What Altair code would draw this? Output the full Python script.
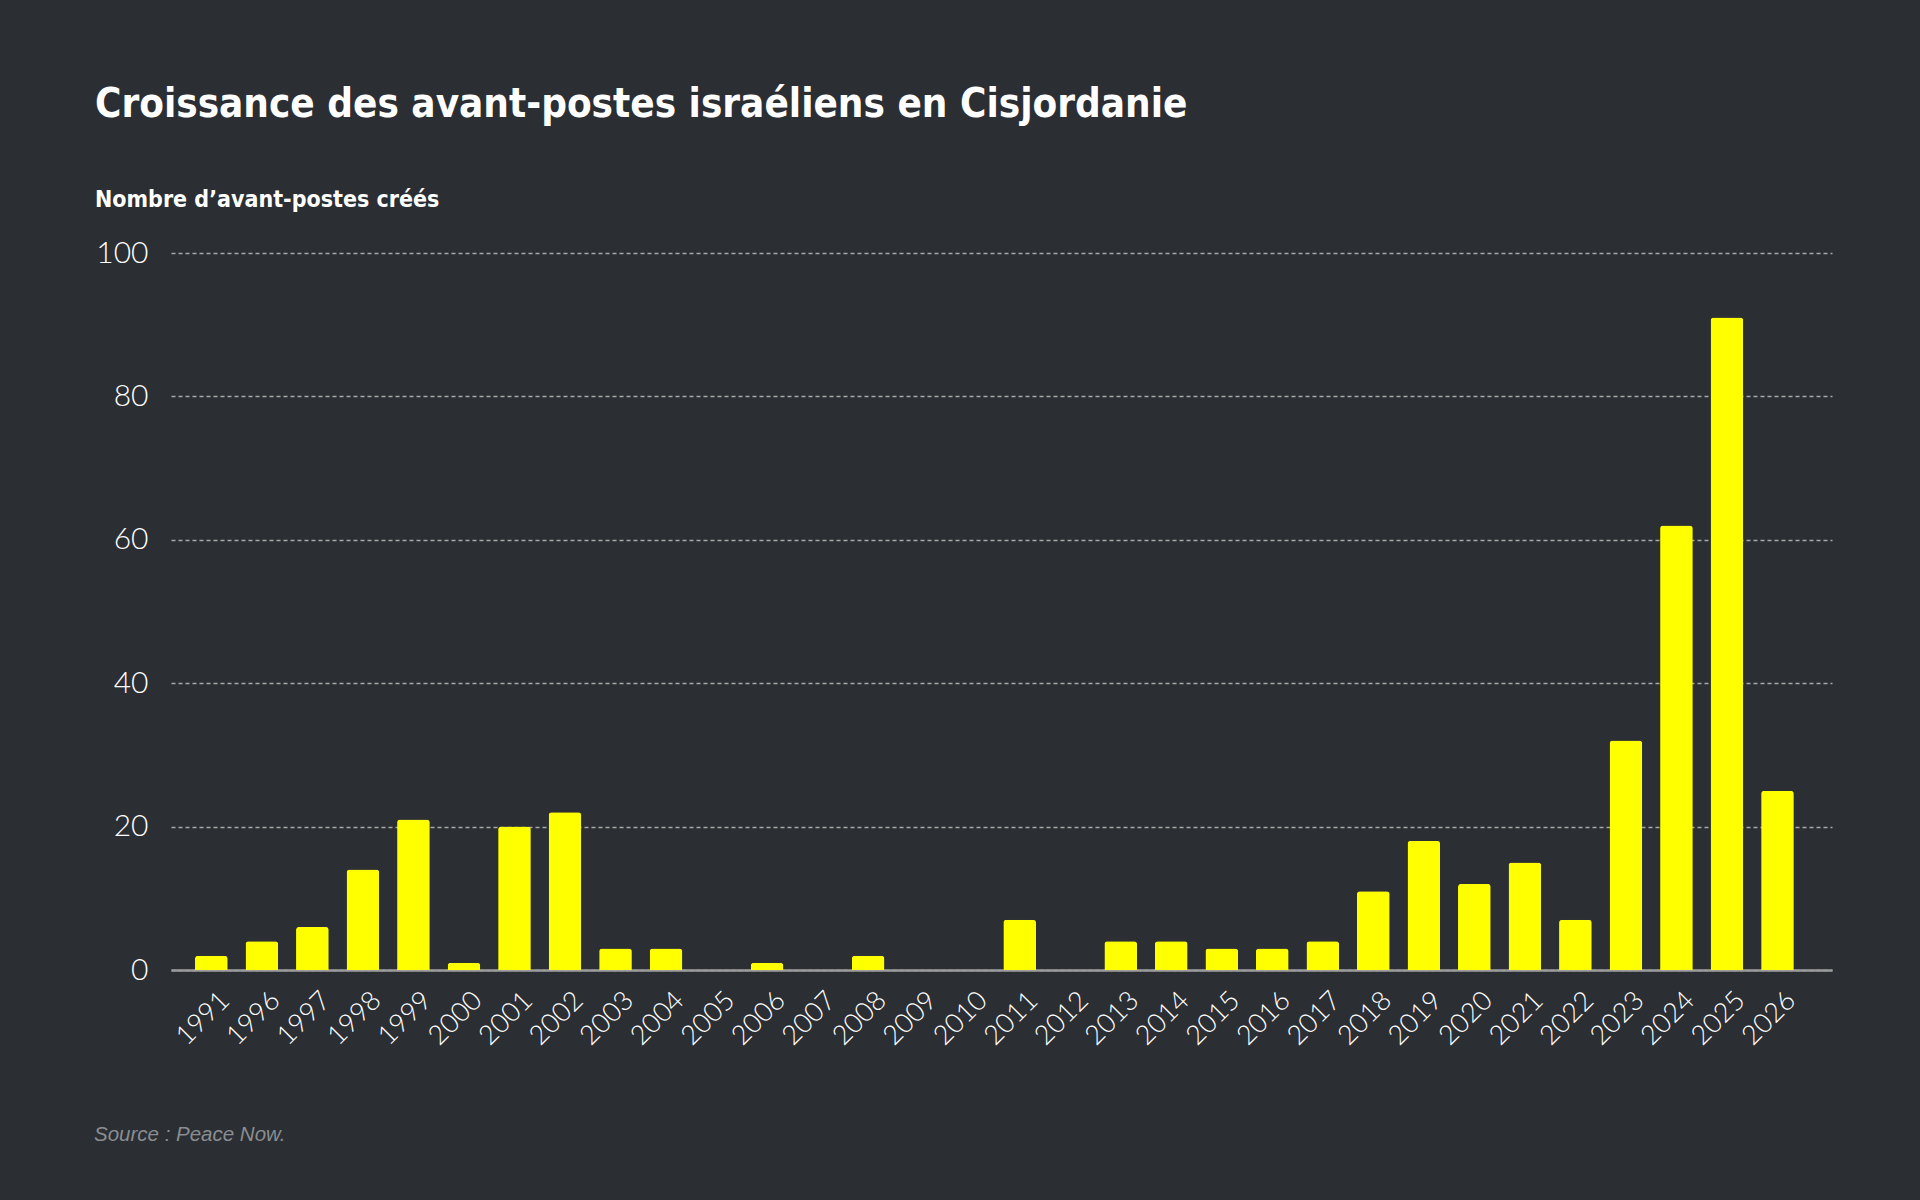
import altair as alt
import pandas as pd

# ---- data ----
years = ["1991", "1996", "1997", "1998", "1999", "2000", "2001", "2002", "2003",
         "2004", "2005", "2006", "2007", "2008", "2009", "2010", "2011", "2012",
         "2013", "2014", "2015", "2016", "2017", "2018", "2019", "2020", "2021",
         "2022", "2023", "2024", "2025", "2026"]
counts = [2, 4, 6, 14, 21, 1, 20, 22, 3, 3, 0, 1, 0, 2, 0, 0, 7, 0,
          4, 4, 3, 3, 4, 11, 18, 12, 15, 7, 32, 62, 91, 25]
y_ticks = [0, 20, 40, 60, 80, 100]

title_text = ["Croissance des avant-postes israéliens en Cisjordanie"]
subtitle_text = ["Nombre d’avant-postes créés"]
source_text = ["Source : Peace Now."]

BG = "#2b2e33"
COND = "Liberation Sans Narrow, DejaVu Sans Condensed, Arial Narrow, sans-serif"
LIGHT = "Lato, Open Sans, sans-serif"

df = pd.DataFrame({"year": years, "count": counts})

bars = alt.Chart(df).mark_bar(
    color="#ffff00", cornerRadiusTopLeft=3, cornerRadiusTopRight=3
).encode(
    x=alt.X(
        "year:N", sort=None, title=None,
        scale=alt.Scale(paddingInner=0.353, paddingOuter=0.6155, align=0.386),
        axis=alt.Axis(
            domain=True, domainColor="#9c9c9c", domainWidth=2.5,
            ticks=False, tickSize=0, grid=False,
            labelAngle=-45, labelAlign="right", labelBaseline="middle",
            labelFont=LIGHT, labelFontWeight=300, labelFontSize=27,
            labelColor="#ffffff", labelPadding=26, labelOffset=14,
        ),
    ),
    y=alt.Y(
        "count:Q", title=None,
        scale=alt.Scale(domain=[0, 100], nice=False),
        axis=alt.Axis(
            values=y_ticks, domain=False, ticks=False, tickSize=0,
            grid=True, gridColor="#a8a8a8", gridDash=[4, 3], gridWidth=1.5,
            labelFont=LIGHT, labelFontWeight=300, labelFontSize=30,
            labelColor="#ffffff", labelPadding=23,
        ),
    ),
)

title_layer = alt.Chart(pd.DataFrame({"t": title_text})).mark_text(
    align="left", baseline="alphabetic", font=COND, fontSize=40,
    fontWeight="bold", color="#ffffff"
).encode(text="t:N", x=alt.value(-76), y=alt.value(-136))

subtitle_layer = alt.Chart(pd.DataFrame({"t": subtitle_text})).mark_text(
    align="left", baseline="alphabetic", font=COND, fontSize=23,
    fontWeight="bold", color="#ffffff"
).encode(text="t:N", x=alt.value(-76), y=alt.value(-46))

source_layer = alt.Chart(pd.DataFrame({"t": source_text})).mark_text(
    align="left", baseline="alphabetic", font="Liberation Sans, Arial, sans-serif",
    fontSize=20.5, fontStyle="italic", color="#8a8d91"
).encode(text="t:N", x=alt.value(-77), y=alt.value(888))

chart = alt.layer(bars, title_layer, subtitle_layer, source_layer).properties(
    width=1661, height=717,
    padding={"left": 171, "top": 253, "right": 88, "bottom": 230},
    autosize=alt.AutoSizeParams(type="none"),
    background=BG,
).configure_view(stroke=None)

chart.save("out.html", embed_options={"renderer": "svg", "actions": False})
